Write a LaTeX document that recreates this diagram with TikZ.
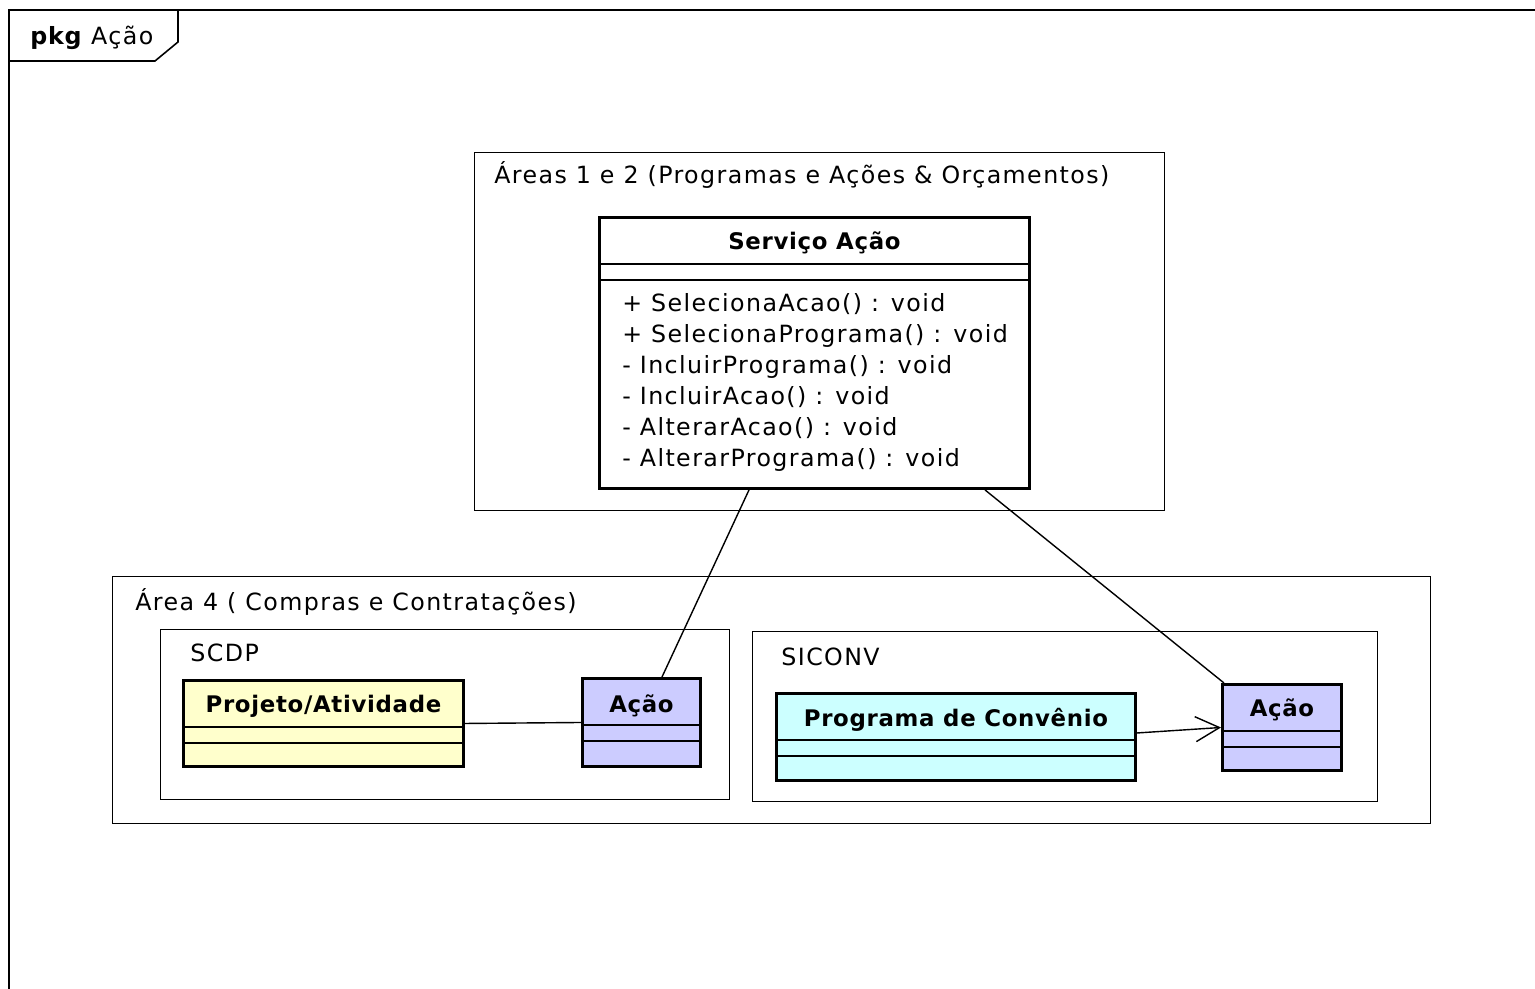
\documentclass[tikz,border=0pt]{standalone}
\usepackage{fontspec}
\setmainfont{DejaVu Sans}[LetterSpace=6, BoldFeatures={LetterSpace=3}]
\usetikzlibrary{positioning,calc,arrows.meta}

\definecolor{projcol}{RGB}{255,255,204}
\definecolor{acaocol}{RGB}{204,204,255}
\definecolor{convcol}{RGB}{204,255,255}

\tikzset{
  pkgbox/.style = {draw, line width=0.8pt, inner sep=0pt, anchor=north west},
  pkgname/.style = {anchor=base west, inner sep=0pt, font=\fontsize{13.5}{15}\selectfont},
  classbox/.style = {draw, line width=1.7pt, inner sep=0pt, anchor=north west},
  classname/.style = {anchor=base, inner sep=0pt, font=\bfseries\fontsize{13}{15}\selectfont},
  oper/.style = {anchor=base west, inner sep=0pt, font=\fontsize{13.5}{15}\selectfont},
  compline/.style = {line width=0.8pt},
  assoc/.style = {line width=0.8pt},
}

\begin{document}
\begin{tikzpicture}[x=0.02cm, y=-0.02cm]
  \useasboundingbox (0,0) rectangle (1535,989);

  % outer package frame and its tab
  \draw[line width=0.9pt] (9,989) -- (9,10) -- (1535,10);
  \draw[line width=0.9pt] (178,10) -- (178,42) -- (155,61) -- (9,61);
  \node[pkgname] (pkglabel) at (30,45) {\textbf{pkg} Ação};

  % packages
  \node[pkgbox, minimum width=13.8cm, minimum height=7.16cm] (areas12) at (474,152) {};
  \node[pkgname] (areas12name) at (494,184) {Áreas 1 e 2 (Programas e Ações \& Orçamentos)};
  \node[pkgbox, minimum width=26.36cm, minimum height=4.94cm] (area4) at (112,576) {};
  \node[pkgname] (area4name) at (135,610) {Área 4 ( Compras e Contratações)};
  \node[pkgbox, minimum width=11.38cm, minimum height=3.4cm] (scdp) at (160,629) {};
  \node[pkgname] (scdpname) at (190,661) {SCDP};
  \node[pkgbox, minimum width=12.5cm, minimum height=3.4cm] (siconv) at (752,631) {};
  \node[pkgname] (siconvname) at (781,665) {SICONV};

  % classes
  \node[classbox, fill=white, minimum width=8.6cm, minimum height=5.42cm] (servico) at (598,216) {};
  \node[classbox, fill=projcol, minimum width=5.6cm, minimum height=1.72cm] (projeto) at (182,679) {};
  \node[classbox, fill=acaocol, minimum width=2.36cm, minimum height=1.76cm] (acaoA) at (581,677) {};
  \node[classbox, fill=convcol, minimum width=7.18cm, minimum height=1.74cm] (programa) at (775,692) {};
  \node[classbox, fill=acaocol, minimum width=2.38cm, minimum height=1.72cm] (acaoB) at (1221,683) {};

  % compartments
  \foreach \c in {servico, projeto, acaoA, programa, acaoB} {
    \draw[compline] ($(\c.north west)+(0,48)$) -- ($(\c.north east)+(0,48)$);
    \draw[compline] ($(\c.north west)+(0,64)$) -- ($(\c.north east)+(0,64)$);
  }

  % class names
  \node[classname] (serviconame) at ($(servico.north)+(0,34)$) {Serviço Ação};
  \node[classname] (projetoname) at ($(projeto.north)+(0,33)$) {Projeto/Atividade};
  \node[classname] (acaoAname) at ($(acaoA.north)+(0,35)$) {Ação};
  \node[classname] (programaname) at ($(programa.north)+(0,34)$) {Programa de Convênio};
  \node[classname] (acaoBname) at ($(acaoB.north)+(0,33)$) {Ação};

  % operations
  \foreach \op [count=\i] in {+ SelecionaAcao() : void, + SelecionaPrograma() : void,
      - IncluirPrograma() : void, - IncluirAcao() : void,
      - AlterarAcao() : void, - AlterarPrograma() : void}
    \node[oper] (op\i) at ($(servico.north west)+(24,65+31*\i)$) {\op};

  % associations
  \draw[assoc] ($(servico.south west)+(151,0)$) -- ($(acaoA.north west)+(81,0)$);
  \draw[assoc] ($(servico.south west)+(387,0)$) -- ($(acaoB.north west)+(3,0)$);
  \draw[assoc] (projeto.east) -- (acaoA.west);
  \draw[assoc, -{Straight Barb[length=0.48cm, width=0.5cm]}] ($(programa.east)+(0,-4)$) -- (acaoB.west);
\end{tikzpicture}
\end{document}
